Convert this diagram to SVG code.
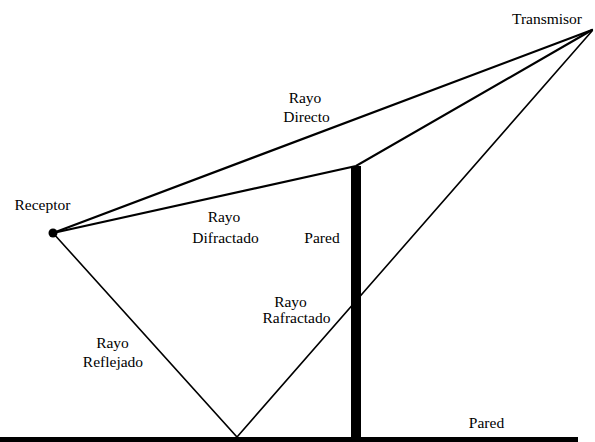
<svg xmlns="http://www.w3.org/2000/svg" width="595" height="442" viewBox="0 0 595 442">
<style>
text{font-family:'Liberation Serif','DejaVu Serif','Times New Roman',Times,serif;font-size:15.5px;fill:#000;text-anchor:middle}
.ray{stroke:#000;fill:none;stroke-linecap:round}
.thick{stroke-width:2.2}
.thin{stroke-width:1.6}
</style>
<rect width="595" height="442" fill="#fff"/>
<g id="connectors">
<line class="ray thick" x1="53" y1="233" x2="592" y2="30"/>
<polyline class="ray thick" points="53,233 356,166 592,30"/>
<polyline class="ray thin" points="53,233 237,437 592,31"/>
</g>
<g font-family="Liberation Serif, DejaVu Serif, serif">
<g id="ground"><rect x="0" y="437" width="578" height="5" fill="#000"/><text x="486.5" y="428">Pared</text></g>
<g id="wall"><rect x="351" y="166" width="10" height="276" fill="#000"/><text x="322" y="243">Pared</text></g>
<g id="receptor"><circle cx="53" cy="233" r="4.5" fill="#000"/><text x="42.5" y="210">Receptor</text></g>
<g id="transmisor"><text x="547" y="24">Transmisor</text></g>
<g id="label-directo"><text x="305" y="103">Rayo</text><text x="306.5" y="122">Directo</text></g>
<g id="label-difractado"><text x="224" y="222">Rayo</text><text x="225.5" y="243">Difractado</text></g>
<g id="label-rafractado"><text x="290.5" y="307">Rayo</text><text x="296.5" y="323">Rafractado</text></g>
<g id="label-reflejado"><text x="112.5" y="348">Rayo</text><text x="113" y="367">Reflejado</text></g>
</g>
</svg>
